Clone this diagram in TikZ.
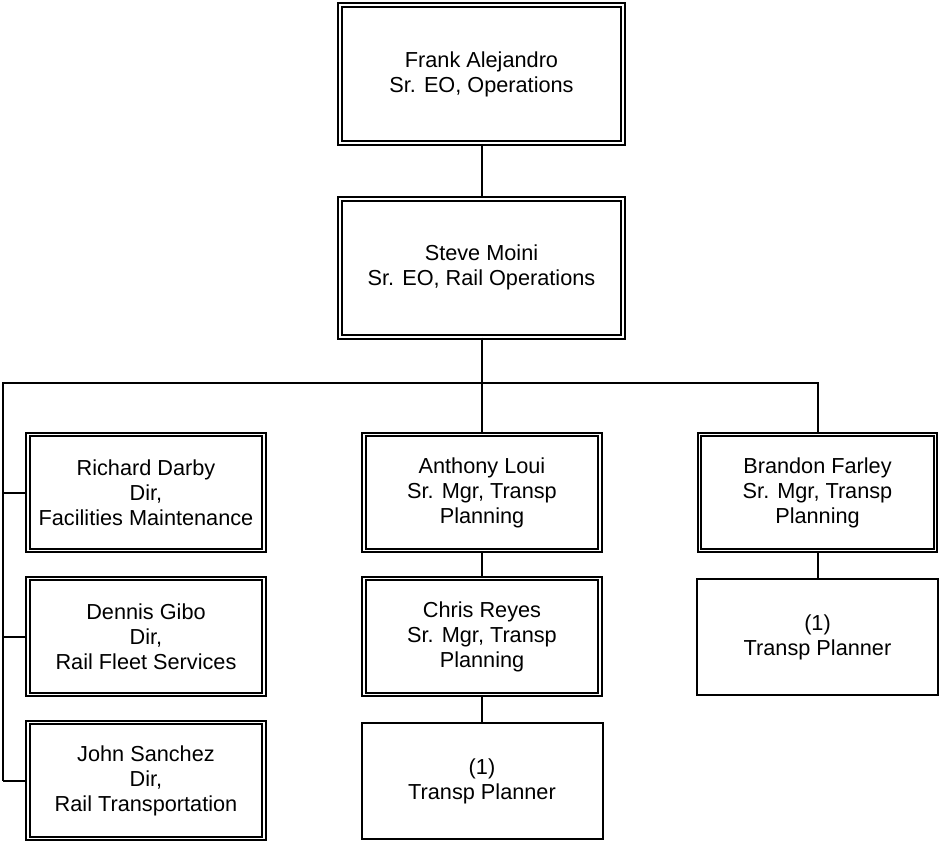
\documentclass[tikz,border=0pt]{standalone}
\usepackage{fontspec}
\setmainfont{Liberation Sans}
\usetikzlibrary{positioning}

\begin{document}
\begin{tikzpicture}[x=1pt,y=1pt,
  chief/.style={draw,line width=2pt,double=white,double distance=1.7pt,align=center,
    font=\fontsize{21.7}{25}\selectfont,minimum width=283pt,minimum height=138pt,inner sep=0pt},
  mgr/.style={chief,minimum width=236pt,minimum height=116pt},
  staff/.style={draw,line width=2pt,align=center,font=\fontsize{21.7}{25}\selectfont,
    minimum width=241pt,minimum height=116pt,inner sep=0pt},
  link/.style={line width=2pt}]
  \useasboundingbox (0,0) rectangle (939,-842);
  \node[chief] (frank) at (481.5,-74) {Frank Alejandro\\Sr. EO, Operations};
  \node[chief,below=53.7pt of frank] (steve) {Steve Moini\\Sr. EO, Rail Operations};
  \node[mgr] (richard) at (146,-492.5) {Richard Darby\\Dir,\\Facilities Maintenance};
  \node[mgr,below=26pt of richard] (dennis) {Dennis Gibo\\Dir,\\Rail Fleet Services};
  \node[mgr,below=26pt of dennis] (john) {John Sanchez\\Dir,\\Rail Transportation};
  \node[mgr] (anthony) at (482,-492.5) {Anthony Loui\\Sr. Mgr, Transp\\Planning};
  \node[mgr,below=26pt of anthony] (chris) {Chris Reyes\\Sr. Mgr, Transp\\Planning};
  \node[staff,below=26.8pt of chris] (plannerA) {(1)\\Transp Planner};
  \node[mgr] (brandon) at (817.5,-492.5) {Brandon Farley\\Sr. Mgr, Transp\\Planning};
  \node[staff,below=26.8pt of brandon] (plannerB) {(1)\\Transp Planner};
  \coordinate (bus) at (3,-383);
  \draw[link] (frank) -- (steve);
  \draw[link] (steve.south) -- (steve.south |- bus);
  \draw[link] (bus |- john.west) -- (bus) -| (brandon.north);
  \draw[link] (anthony.north |- bus) -- (anthony.north);
  \draw[link] (bus |- richard.west) -- (richard.west);
  \draw[link] (bus |- dennis.west) -- (dennis.west);
  \draw[link] (bus |- john.west) -- (john.west);
  \draw[link] (anthony) -- (chris);
  \draw[link] (chris) -- (plannerA);
  \draw[link] (brandon) -- (plannerB);
\end{tikzpicture}
\end{document}
